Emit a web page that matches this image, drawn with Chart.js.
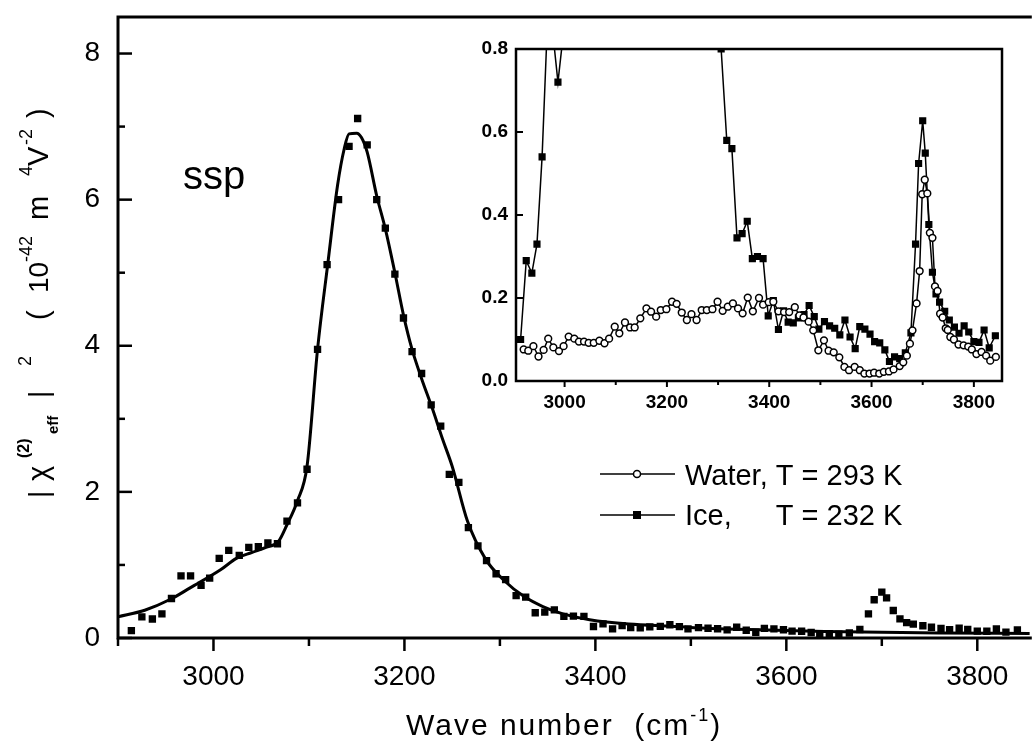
<!DOCTYPE html>
<html>
<head>
<meta charset="utf-8">
<script src="https://cdn.jsdelivr.net/npm/chart.js@4.4.1/dist/chart.umd.min.js"></script>
<style>
  html, body { margin: 0; padding: 0; background: #fff; }
  #wrap { position: relative; width: 1035px; height: 748px; overflow: hidden; background: #fff; }
  #main-chart { position: absolute; left: 0; top: 0; }
  #inset-chart { position: absolute; left: 440px; top: 30px; }
</style>
</head>
<body>
<div id="wrap">
  <canvas id="main-chart" width="1035" height="748"></canvas>
  <canvas id="inset-chart" width="570" height="390"></canvas>
</div>
<script>
// Ice, T = 232 K (squares) - wave number / |chi|^2
const iceWave = [2914, 2925, 2936, 2946, 2956, 2966, 2976, 2987, 2996, 3006, 3016, 3027, 3037, 3047, 3057, 3067,
  3077, 3088, 3098, 3109, 3119, 3131, 3142, 3151, 3161, 3171, 3180, 3190, 3199, 3208, 3218, 3228, 3238, 3247,
  3257, 3267, 3277, 3286, 3296, 3306, 3317, 3327, 3337, 3347, 3357, 3367, 3377, 3388, 3398, 3408, 3418, 3428,
  3437, 3447, 3457, 3468, 3478, 3488, 3497, 3508, 3518, 3528, 3538, 3548, 3558, 3568, 3577, 3587, 3597, 3606,
  3616, 3626, 3635, 3645, 3655, 3666, 3677, 3686, 3692, 3700, 3705, 3712, 3719, 3726, 3733, 3743, 3752, 3762,
  3771, 3781, 3790, 3800, 3810, 3820, 3830, 3842];
const iceSignal = [0.10, 0.29, 0.26, 0.33, 0.54, 0.85, 0.85, 0.72, 0.82, 1.09, 1.20, 1.13, 1.24, 1.25, 1.30, 1.29,
  1.60, 1.85, 2.31, 3.95, 5.11, 6.00, 6.73, 7.11, 6.75, 6.00, 5.61, 4.98, 4.38, 3.92, 3.62, 3.19, 2.90, 2.24,
  2.13, 1.51, 1.26, 1.06, 0.88, 0.80, 0.58, 0.56, 0.345, 0.355, 0.385, 0.295, 0.30, 0.295, 0.157, 0.194, 0.124, 0.169,
  0.142, 0.140, 0.152, 0.160, 0.182, 0.155, 0.125, 0.143, 0.133, 0.127, 0.111, 0.147, 0.106, 0.078, 0.131, 0.125, 0.113, 0.095,
  0.092, 0.075, 0.047, 0.058, 0.054, 0.068, 0.116, 0.33, 0.524, 0.627, 0.549, 0.377, 0.262, 0.21, 0.19, 0.168, 0.147, 0.13,
  0.115, 0.133, 0.118, 0.095, 0.093, 0.123, 0.08, 0.109];

// Water, T = 293 K (open circles), inset only
const waterWave = [2920, 2929, 2939, 2949, 2959, 2968, 2978, 2989, 2998, 3008, 3019, 3028, 3038, 3047, 3057, 3068,
  3078, 3087, 3098, 3107, 3118, 3128, 3137, 3148, 3160, 3169, 3179, 3188, 3199, 3210, 3219, 3229, 3239, 3248,
  3258, 3268, 3278, 3289, 3299, 3309, 3319, 3329, 3339, 3348, 3358, 3368, 3380, 3388, 3399, 3408, 3418, 3429,
  3439, 3450, 3459, 3467, 3477, 3486, 3496, 3507, 3516, 3526, 3537, 3547, 3556, 3567, 3577, 3586, 3596, 3605,
  3615, 3624, 3634, 3643, 3655, 3662, 3669, 3675, 3680, 3688, 3694, 3699, 3704, 3709, 3714, 3719, 3724, 3729,
  3734, 3739, 3745, 3749, 3754, 3761, 3770, 3780, 3789, 3796, 3805, 3815, 3824, 3832, 3843];
const waterSignal = [0.076, 0.073, 0.084, 0.059, 0.075, 0.102, 0.081, 0.072, 0.084, 0.107, 0.102, 0.095, 0.095, 0.092, 0.092, 0.097,
  0.091, 0.102, 0.131, 0.115, 0.141, 0.129, 0.129, 0.151, 0.175, 0.167, 0.155, 0.171, 0.173, 0.191, 0.186, 0.165, 0.147, 0.161,
  0.147, 0.171, 0.171, 0.173, 0.191, 0.169, 0.179, 0.187, 0.175, 0.163, 0.201, 0.168, 0.200, 0.184, 0.190, 0.191, 0.168, 0.166,
  0.166, 0.178, 0.158, 0.153, 0.143, 0.122, 0.074, 0.098, 0.073, 0.069, 0.057, 0.034, 0.026, 0.034, 0.026, 0.018, 0.018, 0.020,
  0.018, 0.022, 0.023, 0.028, 0.036, 0.045, 0.061, 0.090, 0.122, 0.187, 0.265, 0.45, 0.485, 0.452, 0.357, 0.345, 0.228, 0.217,
  0.162, 0.153, 0.127, 0.123, 0.106, 0.100, 0.088, 0.086, 0.083, 0.076, 0.065, 0.070, 0.061, 0.049, 0.058];

// Fitted curve in the main panel
const fitWave = [2900, 2928, 2955, 2976, 3007, 3024, 3040, 3055, 3068, 3077, 3088, 3098, 3109, 3120, 3130, 3137,
  3142, 3150, 3155, 3161, 3171, 3180, 3190, 3199, 3208, 3218, 3229, 3240, 3250, 3266, 3285, 3305, 3325, 3345,
  3366, 3394, 3435, 3480, 3521, 3580, 3640, 3700, 3760, 3855];
const fitSignal = [0.29, 0.38, 0.53, 0.69, 0.93, 1.09, 1.17, 1.24, 1.32, 1.55, 1.88, 2.35, 3.95, 5.15, 6.2, 6.7,
  6.9, 6.91, 6.85, 6.65, 6.05, 5.6, 5.0, 4.42, 3.95, 3.55, 3.15, 2.72, 2.35, 1.6, 1.08, 0.78, 0.57, 0.43,
  0.33, 0.25, 0.19, 0.16, 0.13, 0.11, 0.09, 0.08, 0.07, 0.06];

// Tick values
const mainXTicks = [3000, 3200, 3400, 3600, 3800];
const mainXMinor = [2900, 3100, 3300, 3500, 3700];
const mainYTicks = [0, 2, 4, 6, 8];
const mainYMinor = [1, 3, 5, 7];
const insetXTicks = [3000, 3200, 3400, 3600, 3800];
const insetXMinor = [3100, 3300, 3500, 3700];
const insetYTicks = [0, 0.2, 0.4, 0.6, 0.8];

const FONT = '"Liberation Sans", Arial, sans-serif';

function toPoints(xs, ys) {
  return xs.map((x, i) => ({ x: x, y: ys[i] }));
}

// scales should not push the plot area around for their edge labels
function noEdgePadding(s) {
  s.paddingTop = 0; s.paddingBottom = 0; s.paddingLeft = 0; s.paddingRight = 0;
}

// pieces of the rotated y title: text, size, offset along the axis, baseline shift
const yTitleParts = [
  { t: "|", size: 28, at: 0, dy: 0 },
  { t: "\u03c7", size: 29, at: 17, dy: 0 },
  { t: "(2)", size: 16, at: 40, dy: -19, bold: true },
  { t: "eff", size: 15, at: 64, dy: 10, bold: true },
  { t: "|", size: 28, at: 100, dy: 0 },
  { t: "2", size: 18, at: 132, dy: -17 },
  { t: "(", size: 29, at: 178, dy: 0 },
  { t: "10", size: 28, at: 205, dy: 0 },
  { t: "-42", size: 18, at: 236, dy: -16 },
  { t: "m", size: 29, at: 278, dy: 0 },
  { t: "4", size: 18, at: 322, dy: -16 },
  { t: "V", size: 29, at: 332, dy: 0 },
  { t: "-2", size: 18, at: 353, dy: -16 },
  { t: ")", size: 29, at: 380, dy: 0 }
];

const mainDecor = {
  id: "mainDecor",
  afterDraw(chart) {
    const ctx = chart.ctx;
    const a = chart.chartArea;
    const xs = chart.scales.x, ys = chart.scales.y;
    ctx.save();
    ctx.strokeStyle = "#000";
    ctx.fillStyle = "#000";
    ctx.lineWidth = 3;
    ctx.beginPath();
    ctx.moveTo(a.right + 2, a.top);
    ctx.lineTo(a.left, a.top);
    ctx.lineTo(a.left, a.bottom);
    ctx.lineTo(a.right + 2, a.bottom);
    ctx.stroke();

    // y ticks (inward)
    ctx.lineWidth = 2.5;
    mainYTicks.forEach(v => {
      const py = ys.getPixelForValue(v);
      ctx.beginPath(); ctx.moveTo(a.left, py); ctx.lineTo(a.left + 14, py); ctx.stroke();
    });
    mainYMinor.forEach(v => {
      const py = ys.getPixelForValue(v);
      ctx.beginPath(); ctx.moveTo(a.left, py); ctx.lineTo(a.left + 7, py); ctx.stroke();
    });
    // x ticks (outward)
    mainXTicks.forEach(v => {
      const px = xs.getPixelForValue(v);
      ctx.beginPath(); ctx.moveTo(px, a.bottom); ctx.lineTo(px, a.bottom + 13); ctx.stroke();
    });
    mainXMinor.forEach(v => {
      const px = xs.getPixelForValue(v);
      ctx.beginPath(); ctx.moveTo(px, a.bottom); ctx.lineTo(px, a.bottom + 8); ctx.stroke();
    });

    ctx.textBaseline = "alphabetic";
    ctx.textAlign = "left";

    // "ssp" label
    ctx.font = "40px " + FONT;
    ctx.fillText("ssp", 183, 189);

    // x title
    ctx.letterSpacing = "2px";
    ctx.font = "30px " + FONT;
    ctx.fillText("Wave number  (cm", 406, 735);
    let cx = 406 + ctx.measureText("Wave number  (cm").width;
    ctx.font = "18px " + FONT;
    ctx.fillText("-1", cx, 721);
    cx += ctx.measureText("-1").width;
    ctx.font = "30px " + FONT;
    ctx.fillText(")", cx, 735);
    ctx.letterSpacing = "0px";

    // y title (rotated)
    ctx.save();
    ctx.translate(48, 498);
    ctx.rotate(-Math.PI / 2);
    yTitleParts.forEach(p => {
      ctx.font = (p.bold ? "bold " : "") + p.size + "px " + FONT;
      ctx.fillText(p.t, p.at, p.dy);
    });
    ctx.restore();

    // legend
    ctx.lineWidth = 1.5;
    [474, 515].forEach(ly => {
      ctx.beginPath(); ctx.moveTo(600, ly); ctx.lineTo(675, ly); ctx.stroke();
    });
    ctx.beginPath();
    ctx.arc(637, 474, 3.5, 0, Math.PI * 2);
    ctx.fillStyle = "#fff"; ctx.fill();
    ctx.stroke();
    ctx.fillStyle = "#000";
    ctx.fillRect(633, 511, 8, 8);
    ctx.font = "29px " + FONT;
    ctx.fillText("Water, T = 293 K", 685, 485);
    const tx = 685 + ctx.measureText("Water, ").width;
    ctx.fillText("Ice,", 685, 525);
    ctx.fillText("T = 232 K", tx, 525);
    ctx.restore();
  }
};

const insetDecor = {
  id: "insetDecor",
  afterDraw(chart) {
    const ctx = chart.ctx;
    const a = chart.chartArea;
    const xs = chart.scales.x, ys = chart.scales.y;
    ctx.save();
    ctx.strokeStyle = "#000";
    ctx.lineWidth = 2.5;
    ctx.strokeRect(a.left, a.top, a.right - a.left, a.bottom - a.top);
    ctx.lineWidth = 2;
    insetYTicks.forEach(v => {
      const py = ys.getPixelForValue(v);
      ctx.beginPath(); ctx.moveTo(a.left, py); ctx.lineTo(a.left + 7, py); ctx.stroke();
    });
    insetXTicks.forEach(v => {
      const px = xs.getPixelForValue(v);
      ctx.beginPath(); ctx.moveTo(px, a.bottom); ctx.lineTo(px, a.bottom + 6); ctx.stroke();
    });
    insetXMinor.forEach(v => {
      const px = xs.getPixelForValue(v);
      ctx.beginPath(); ctx.moveTo(px, a.bottom); ctx.lineTo(px, a.bottom + 4); ctx.stroke();
    });
    ctx.restore();
  }
};

// Main panel
new Chart(document.getElementById("main-chart").getContext("2d"), {
  type: "scatter",
  data: {
    datasets: [
      {
        label: "Ice",
        data: toPoints(iceWave, iceSignal),
        showLine: false,
        pointStyle: "rect",
        pointRadius: 5.2,
        borderWidth: 0,
        backgroundColor: "#000",
        borderColor: "#000"
      },
      {
        label: "Fit",
        data: toPoints(fitWave, fitSignal),
        showLine: true,
        pointRadius: 0,
        borderColor: "#000",
        borderWidth: 3,
        cubicInterpolationMode: "monotone"
      }
    ]
  },
  options: {
    responsive: false,
    animation: false,
    layout: { padding: { top: 17, left: 0, right: 0, bottom: 0 } },
    plugins: { legend: { display: false }, tooltip: { enabled: false } },
    scales: {
      x: {
        type: "linear", min: 2900, max: 3855,
        grid: { display: false, drawTicks: false },
        border: { display: false },
        afterBuildTicks: s => { s.ticks = mainXTicks.map(v => ({ value: v })); },
        afterFit: s => { s.height = 110; noEdgePadding(s); },
        ticks: { padding: 22, color: "#000", maxRotation: 0, autoSkip: false,
                 font: { family: FONT, size: 28 }, callback: v => String(v) }
      },
      y: {
        min: 0, max: 8.5,
        grid: { display: false, drawTicks: false },
        border: { display: false },
        afterBuildTicks: s => { s.ticks = mainYTicks.map(v => ({ value: v })); },
        afterFit: s => { s.width = 118; noEdgePadding(s); },
        ticks: { padding: 18, color: "#000", font: { family: FONT, size: 28 }, callback: v => String(v) }
      }
    }
  },
  plugins: [mainDecor]
});

// Inset panel
new Chart(document.getElementById("inset-chart").getContext("2d"), {
  type: "scatter",
  data: {
    datasets: [
      {
        label: "Water, T = 293 K",
        data: toPoints(waterWave, waterSignal),
        showLine: true,
        pointStyle: "circle",
        pointRadius: 3.4,
        borderWidth: 1.5,
        backgroundColor: "#fff",
        borderColor: "#000"
      },
      {
        label: "Ice, T = 232 K",
        data: toPoints(iceWave, iceSignal),
        showLine: true,
        pointStyle: "rect",
        pointRadius: 4,
        borderWidth: 1.5,
        backgroundColor: "#000",
        borderColor: "#000"
      }
    ]
  },
  options: {
    responsive: false,
    animation: false,
    layout: { padding: { top: 19, left: 0, right: 8, bottom: 0 } },
    plugins: { legend: { display: false }, tooltip: { enabled: false } },
    scales: {
      x: {
        type: "linear", min: 2905, max: 3855,
        grid: { display: false, drawTicks: false },
        border: { display: false },
        afterBuildTicks: s => { s.ticks = insetXTicks.map(v => ({ value: v })); },
        afterFit: s => { s.height = 39; noEdgePadding(s); },
        ticks: { padding: 10, color: "#000", maxRotation: 0, autoSkip: false,
                 font: { family: FONT, size: 19, weight: "bold" }, callback: v => String(v) }
      },
      y: {
        min: 0, max: 0.8,
        grid: { display: false, drawTicks: false },
        border: { display: false },
        afterBuildTicks: s => { s.ticks = insetYTicks.map(v => ({ value: v })); },
        afterFit: s => { s.width = 76; noEdgePadding(s); },
        ticks: { padding: 8, color: "#000", font: { family: FONT, size: 19, weight: "bold" },
                 callback: v => Number(v).toFixed(1) }
      }
    }
  },
  plugins: [insetDecor]
});
</script>
</body>
</html>
